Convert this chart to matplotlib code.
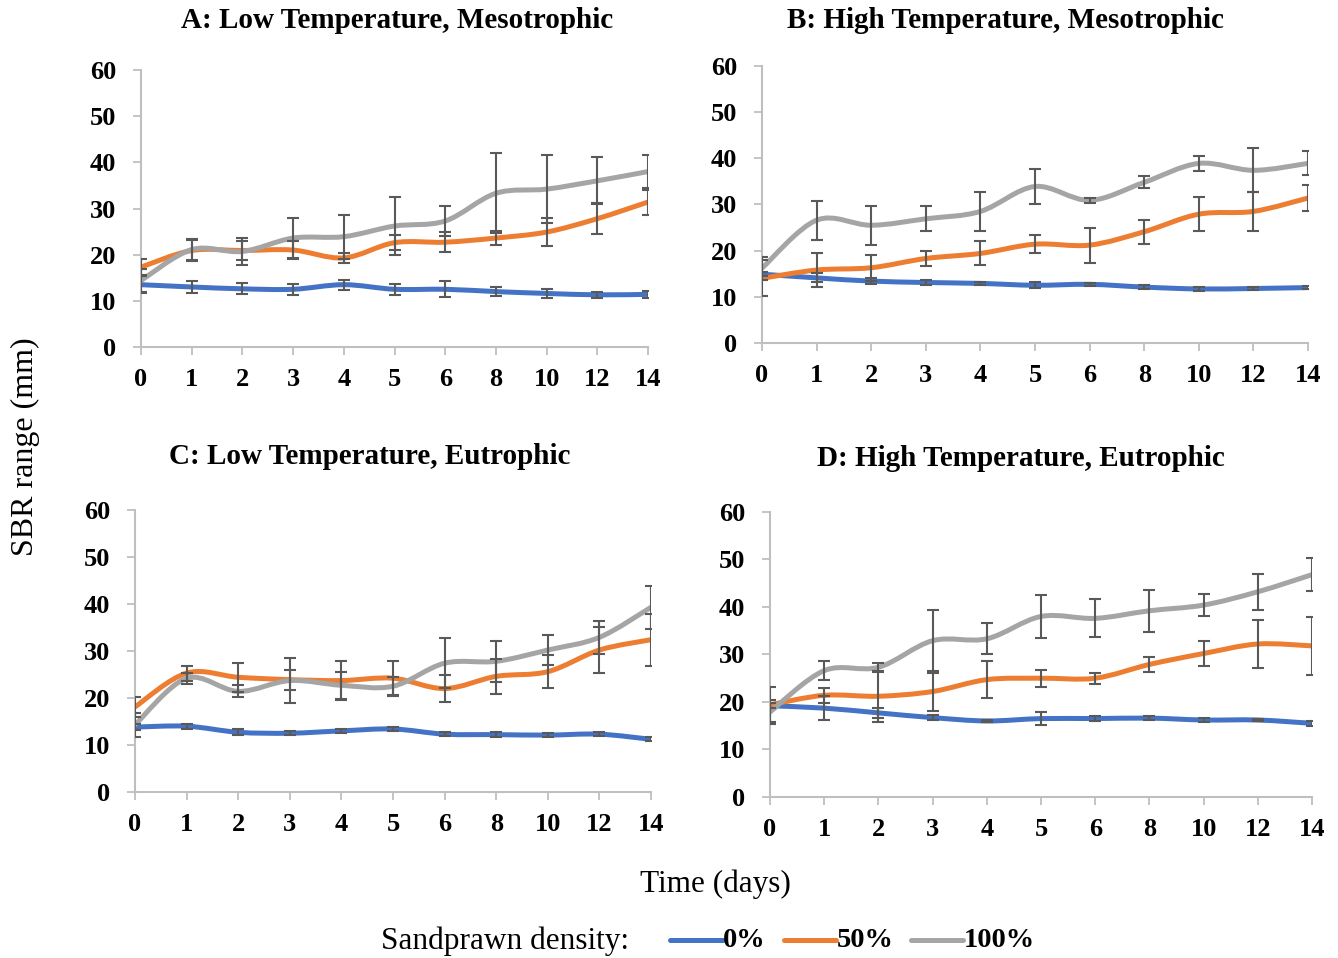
import numpy as np
import matplotlib.pyplot as plt
from matplotlib.path import Path
from matplotlib.patches import PathPatch
from matplotlib.lines import Line2D

days = ['0', '1', '2', '3', '4', '5', '6', '8', '10', '12', '14']
density_labels = ['0%', '50%', '100%']
colors = ['#4472C4', '#ED7D31', '#A5A5A5']

titles = ['A: Low Temperature, Mesotrophic', 'B: High Temperature, Mesotrophic',
          'C: Low Temperature, Eutrophic', 'D: High Temperature, Eutrophic']

# mean SBR range (mm) per day, for 0%, 50% and 100% sandprawn density
a_mean_0 = [13.5, 13.0, 12.6, 12.5, 13.5, 12.5, 12.5, 12.0, 11.6, 11.3, 11.4]
a_mean_50 = [17.3, 20.9, 20.9, 21.0, 19.3, 22.6, 22.7, 23.6, 24.9, 27.8, 31.4]
a_mean_100 = [14.4, 21.1, 20.7, 23.6, 23.9, 26.2, 27.3, 33.3, 34.2, 36.0, 38.0]
a_err_0 = [1.8, 1.4, 1.2, 1.2, 1.1, 1.2, 1.7, 1.0, 0.9, 0.6, 0.8]
a_err_50 = [1.8, 2.2, 2.0, 1.9, 1.0, 1.6, 2.2, 1.6, 3.0, 3.3, 2.7]
a_err_100 = [2.5, 2.3, 2.9, 4.3, 4.8, 6.2, 3.3, 8.7, 7.3, 5.1, 3.6]

b_mean_0 = [14.9, 14.1, 13.4, 13.1, 12.9, 12.5, 12.7, 12.1, 11.7, 11.8, 12.0]
b_mean_50 = [14.0, 15.8, 16.3, 18.3, 19.4, 21.4, 21.2, 24.1, 27.9, 28.5, 31.4]
b_mean_100 = [16.2, 26.6, 25.5, 26.9, 28.5, 33.9, 30.9, 34.8, 38.9, 37.4, 38.9]
b_err_0 = [0.5, 1.0, 0.6, 0.5, 0.4, 0.6, 0.3, 0.5, 0.4, 0.4, 0.4]
b_err_50 = [3.9, 3.6, 2.8, 1.7, 2.6, 1.9, 3.8, 2.6, 3.7, 4.2, 2.8]
b_err_100 = [2.5, 4.2, 4.2, 2.7, 4.3, 3.8, 0.5, 1.3, 1.6, 4.8, 2.6]

c_mean_0 = [13.8, 14.0, 12.7, 12.5, 13.0, 13.4, 12.3, 12.2, 12.1, 12.3, 11.2]
c_mean_50 = [18.1, 25.3, 24.4, 23.9, 23.7, 24.2, 22.0, 24.6, 25.6, 30.2, 32.4]
c_mean_100 = [14.3, 24.2, 21.4, 23.7, 22.7, 22.5, 27.4, 27.8, 30.2, 32.9, 39.3]
c_err_0 = [0.6, 0.5, 0.6, 0.4, 0.5, 0.5, 0.4, 0.6, 0.4, 0.4, 0.4]
c_err_50 = [2.2, 1.6, 3.1, 2.1, 4.2, 3.6, 2.8, 3.7, 3.5, 4.8, 5.5]
c_err_100 = [2.5, 1.2, 1.3, 4.8, 2.9, 2.0, 5.3, 4.4, 3.1, 3.5, 4.6]

d_mean_0 = [19.2, 18.7, 17.7, 16.7, 16.0, 16.5, 16.5, 16.6, 16.2, 16.2, 15.5]
d_mean_50 = [19.4, 21.4, 21.2, 22.2, 24.7, 25.0, 25.0, 27.9, 30.2, 32.2, 31.8]
d_mean_100 = [17.9, 26.6, 27.3, 32.9, 33.3, 38.0, 37.6, 39.2, 40.4, 43.2, 46.8]
d_err_0 = [0.5, 2.5, 1.0, 0.5, 0.3, 1.3, 0.6, 0.4, 0.4, 0.3, 0.5]
d_err_50 = [3.7, 1.6, 5.4, 4.0, 3.9, 1.8, 1.2, 1.6, 2.7, 5.0, 6.1]
d_err_100 = [2.6, 2.0, 0.9, 6.4, 3.3, 4.5, 4.0, 4.4, 2.4, 3.8, 3.5]

panels = [
    ([a_mean_0, a_mean_50, a_mean_100], [a_err_0, a_err_50, a_err_100]),
    ([b_mean_0, b_mean_50, b_mean_100], [b_err_0, b_err_50, b_err_100]),
    ([c_mean_0, c_mean_50, c_mean_100], [c_err_0, c_err_50, c_err_100]),
    ([d_mean_0, d_mean_50, d_mean_100], [d_err_0, d_err_50, d_err_100]),
]

# axes boxes in figure fractions [left, bottom, width, height]
boxes = [
    [0.1054, 0.6378, 0.3789, 0.2891],
    [0.5695, 0.6420, 0.4081, 0.2891],
    [0.1009, 0.1733, 0.3857, 0.2944],
    [0.5755, 0.1681, 0.4051, 0.2975],
]
# title anchors (figure fractions)
title_xy = [(0.2967, 0.979), (0.7511, 0.979), (0.2765, 0.523), (0.7631, 0.521)]

serif = 'Liberation Serif'
axis_grey = '#BFBFBF'
bar_grey = '#595959'


def smooth_path(x, y):
    # Bezier curve through every point, like a spreadsheet "smoothed line"
    pts = np.column_stack([x, y]).astype(float)
    ext = np.vstack([pts[0], pts, pts[-1]])
    verts = [pts[0]]
    codes = [Path.MOVETO]
    for i in range(len(pts) - 1):
        p0, p1, p2, p3 = ext[i], ext[i + 1], ext[i + 2], ext[i + 3]
        c1 = p1 + (p2 - p0) / 6.0
        c2 = p2 - (p3 - p1) / 6.0
        verts += [c1, c2, p2]
        codes += [Path.CURVE4] * 3
    return Path(verts, codes)


fig = plt.figure(figsize=(13.38, 9.58), dpi=100)
pos = np.arange(len(days))

for box, title, txy, (means, errs) in zip(boxes, titles, title_xy, panels):
    ax = fig.add_axes(box)
    for m, c in zip(means, colors):
        patch = PathPatch(smooth_path(pos, m), facecolor='none', edgecolor=c,
                          lw=3.6, capstyle='round', joinstyle='round', zorder=2)
        ax.add_patch(patch)
    for m, e in zip(means, errs):
        ax.errorbar(pos, m, yerr=e, fmt='none', ecolor=bar_grey, elinewidth=1.5,
                    capsize=4.5, capthick=1.5, zorder=3)
    ax.set_xlim(0, len(days) - 1)
    ax.set_ylim(0, 60)
    ax.set_yticks(range(0, 61, 10))
    ax.set_xticks(pos, days)
    for s in ['top', 'right']:
        ax.spines[s].set_visible(False)
    for s in ['left', 'bottom']:
        ax.spines[s].set_color(axis_grey)
        ax.spines[s].set_linewidth(1.5)
    ax.tick_params(axis='both', colors=axis_grey, width=1.3, length=6,
                   labelcolor='black')
    ax.tick_params(axis='x', pad=9)
    ax.tick_params(axis='y', pad=12)
    for lab in ax.get_xticklabels() + ax.get_yticklabels():
        lab.set_fontfamily(serif)
        lab.set_fontweight('bold')
        lab.set_fontsize(19)
    fig.text(txy[0], txy[1], title, ha='center', va='center', fontfamily=serif,
             fontweight='bold', fontsize=21)

fig.text(0.019, 0.534, 'SBR range (mm)', rotation=90, ha='center', va='center',
         fontfamily=serif, fontsize=23)
fig.text(0.535, 0.077, 'Time (days)', ha='center', va='center',
         fontfamily=serif, fontsize=22.5)

# legend row along the bottom
fig.text(0.285, 0.018, 'Sandprawn density:', ha='left', va='center',
         fontfamily=serif, fontsize=22.5)
leg_x = [0.501, 0.586, 0.681]
for lx, c, lab in zip(leg_x, colors, density_labels):
    fig.add_artist(Line2D([lx, lx + 0.039], [0.019, 0.019], color=c, lw=3.6,
                          solid_capstyle='round', transform=fig.transFigure))
    fig.text(lx + 0.039, 0.018, lab, ha='left', va='center', fontfamily=serif,
             fontweight='bold', fontsize=20.5)

fig.savefig('out.png', dpi=100)
